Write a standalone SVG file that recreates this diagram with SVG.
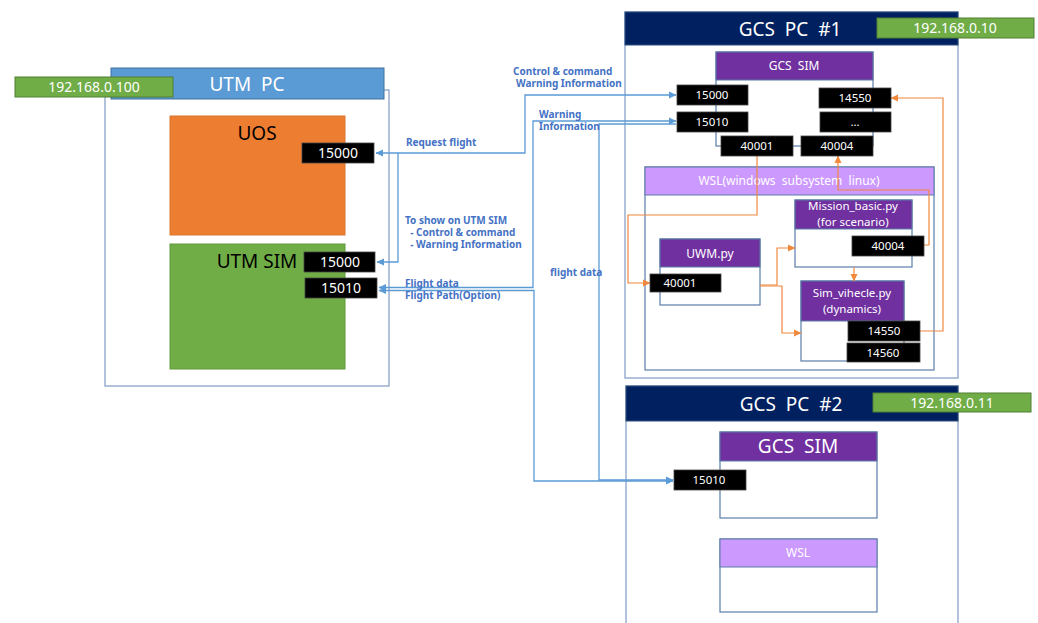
<svg xmlns="http://www.w3.org/2000/svg" width="1038" height="623" viewBox="0 0 1038 623">
<defs>
<marker id="ab" markerWidth="8" markerHeight="8" refX="7" refY="4" orient="auto-start-reverse" markerUnits="userSpaceOnUse"><path d="M0,0.5 L7.5,4 L0,7.5 z" fill="#5B9BD5"/></marker>
<marker id="ao" markerWidth="8" markerHeight="8" refX="7" refY="4" orient="auto-start-reverse" markerUnits="userSpaceOnUse"><path d="M0,0.5 L7.5,4 L0,7.5 z" fill="#F0883E"/></marker>
</defs>
<style>
text{font-family:"Noto Sans","Open Sans","Liberation Sans",sans-serif;}
.frame{fill:#fff;stroke:#7F9CC4;stroke-width:1.2;}
.box{fill:#fff;stroke:#5A7DA8;stroke-width:1.2;}
.hdrblue{fill:#5B9BD5;stroke:#41719C;stroke-width:1;}
.hdrnavy{fill:#002060;stroke:#2F4F7F;stroke-width:1;}
.hdrpur{fill:#7030A0;stroke:#5A7DA8;stroke-width:1;}
.hdrlil{fill:#CC99FF;stroke:#5A7DA8;stroke-width:1;}
.ip{fill:#70AD47;stroke:#507E32;stroke-width:1;}
.port{fill:#000;stroke:#444;stroke-width:0.8;}
.t-big{fill:#fff;font-size:19px;text-anchor:middle;}
.t-ip{fill:#fff;font-size:14px;text-anchor:middle;}
.t-p14{fill:#fff;font-size:14px;text-anchor:middle;}
.t-p11{fill:#fff;font-size:11.5px;text-anchor:middle;}
.t-mod{fill:#fff;font-size:12px;text-anchor:middle;}
.t-two{fill:#fff;font-size:11.5px;text-anchor:middle;}
.t-blk{fill:#000;font-size:19px;text-anchor:middle;}
.lbl{fill:#4472C4;font-size:10px;font-weight:bold;}
.cb{fill:none;stroke:#5B9BD5;stroke-width:1.3;}
.co{fill:none;stroke:#F0883E;stroke-width:1.2;}
</style>

<g id="utm-pc">
<rect class="frame" x="105" y="90" width="284" height="296"/>
<rect class="hdrblue" x="111" y="68" width="273" height="31"/>
<text class="t-big" x="247" y="91" xml:space="preserve">UTM  PC</text>
</g>
<g id="ip-utm">
<rect class="ip" x="15" y="77" width="158" height="20"/>
<text class="t-ip" x="94" y="92">192.168.0.100</text>
</g>
<g id="uos">
<rect x="170" y="116" width="175" height="119" fill="#ED7D31" stroke="#D6782F" stroke-width="1"/>
<text class="t-blk" x="257" y="140">UOS</text>
</g>
<g id="utm-sim">
<rect x="170" y="244" width="175" height="125" fill="#70AD47" stroke="#5E9A3A" stroke-width="1"/>
<text class="t-blk" x="257" y="268">UTM SIM</text>
</g>

<g id="gcs-pc1">
<rect class="frame" x="625" y="12" width="333" height="366"/>
<rect class="hdrnavy" x="625" y="12" width="333" height="33"/>
<text class="t-big" x="790" y="36" xml:space="preserve">GCS  PC  #1</text>
</g>
<g id="ip-gcs1">
<rect class="ip" x="877" y="18" width="157" height="20"/>
<text class="t-ip" x="955" y="33">192.168.0.10</text>
</g>
<g id="gcs-sim1">
<rect class="box" x="716" y="52" width="157" height="94"/>
<rect class="hdrpur" x="716" y="52" width="157" height="28"/>
<text class="t-mod" x="794" y="70" font-size="12.5" xml:space="preserve">GCS  SIM</text>
</g>
<g id="wsl1">
<rect class="box" x="645" y="167" width="289" height="203"/>
<rect class="hdrlil" x="645" y="167" width="289" height="28"/>
<text class="t-mod" x="789" y="185" xml:space="preserve">WSL(windows  subsystem  linux)</text>
</g>
<g id="mission">
<rect class="box" x="795" y="200" width="117" height="67"/>
<rect class="hdrpur" x="795" y="200" width="117" height="29"/>
<text class="t-two" x="853" y="210">Mission_basic.py</text>
<text class="t-two" x="853" y="226">(for scenario)</text>
</g>
<g id="uwm">
<rect class="box" x="660" y="239" width="100" height="66"/>
<rect class="hdrpur" x="660" y="239" width="100" height="28"/>
<text class="t-mod" x="710" y="258">UWM.py</text>
</g>
<g id="simveh">
<rect class="box" x="801" y="281" width="103" height="80"/>
<rect class="hdrpur" x="801" y="281" width="103" height="40"/>
<text class="t-two" x="852" y="297">Sim_vihecle.py</text>
<text class="t-two" x="852" y="313">(dynamics)</text>
</g>

<g id="gcs-pc2">
<rect class="frame" x="626" y="386" width="332" height="245"/>
<rect class="hdrnavy" x="626" y="386" width="332" height="35"/>
<text class="t-big" x="791" y="411" xml:space="preserve">GCS  PC  #2</text>
</g>
<g id="ip-gcs2">
<rect class="ip" x="873" y="393" width="158" height="19"/>
<text class="t-ip" x="952" y="408">192.168.0.11</text>
</g>
<g id="gcs-sim2">
<rect class="box" x="720" y="432" width="157" height="86"/>
<rect class="hdrpur" x="720" y="432" width="157" height="29"/>
<text class="t-big" x="798" y="453" xml:space="preserve">GCS  SIM</text>
</g>
<g id="wsl2">
<rect class="box" x="720" y="539" width="157" height="73"/>
<rect class="hdrlil" x="720" y="539" width="157" height="28"/>
<text class="t-mod" x="798" y="557" font-size="11">WSL</text>
</g>

<g id="connectors">
<path class="cb" d="M676,95 H525 V153 H376" marker-start="url(#ab)" marker-end="url(#ab)"/>
<path class="cb" d="M398,153 V262 H377" marker-end="url(#ab)"/>
<path class="cb" d="M676,121 H533 V287.5 H379" marker-start="url(#ab)" marker-end="url(#ab)"/>
<path class="cb" d="M673,481 H534 V290.5 H379" marker-start="url(#ab)" marker-end="url(#ab)"/>
<path class="cb" d="M676,124 H599 V480 H673" marker-end="url(#ab)"/>
<path class="co" d="M757,156 V215 H628 V283 H650" marker-end="url(#ao)"/>
<path class="co" d="M760,285 H777 V248 H795" marker-end="url(#ao)"/>
<path class="co" d="M760,286 H782 V333 H801" marker-end="url(#ao)"/>
<path class="co" d="M854,267 V281" marker-end="url(#ao)"/>
<path class="co" d="M924,245 H929 V190 H838 V156" marker-end="url(#ao)"/>
<path class="co" d="M920,331 H943 V98 H891" marker-end="url(#ao)"/>
</g>

<g id="labels">
<text class="lbl" x="513" y="75">Control &amp; command</text>
<text class="lbl" x="516" y="87">Warning Information</text>
<text class="lbl" x="539" y="118">Warning</text>
<text class="lbl" x="539" y="130">Information</text>
<text class="lbl" x="406" y="146">Request flight</text>
<text class="lbl" x="405" y="224">To show on UTM SIM</text>
<text class="lbl" x="405" y="236" xml:space="preserve">  - Control &amp; command</text>
<text class="lbl" x="405" y="248" xml:space="preserve">  - Warning Information</text>
<text class="lbl" x="550" y="276">flight data</text>
<text class="lbl" x="405" y="287">Flight data</text>
<text class="lbl" x="405" y="299">Flight Path(Option)</text>
</g>

<g id="port-uos-15000"><rect class="port" x="302" y="143" width="72" height="20"/><text class="t-p14" x="338" y="158">15000</text></g>
<g id="port-utm-15000"><rect class="port" x="304" y="252" width="71" height="20"/><text class="t-p14" x="340" y="267">15000</text></g>
<g id="port-utm-15010"><rect class="port" x="305" y="278" width="72" height="20"/><text class="t-p14" x="341" y="293">15010</text></g>

<g id="port-g1-15000"><rect class="port" x="677" y="85" width="71" height="20"/><text class="t-p11" x="712" y="99">15000</text></g>
<g id="port-g1-15010"><rect class="port" x="677" y="112" width="71" height="20"/><text class="t-p11" x="712" y="126">15010</text></g>
<g id="port-g1-14550"><rect class="port" x="819" y="88" width="72" height="20"/><text class="t-p11" x="855" y="102">14550</text></g>
<g id="port-g1-etc"><rect class="port" x="820" y="112" width="71" height="20"/><text class="t-p11" x="855" y="126">...</text></g>
<g id="port-g1-40001"><rect class="port" x="721" y="136" width="72" height="20"/><text class="t-p11" x="757" y="150">40001</text></g>
<g id="port-g1-40004"><rect class="port" x="801" y="136" width="72" height="20"/><text class="t-p11" x="837" y="150">40004</text></g>
<g id="port-mission-40004"><rect class="port" x="852" y="236" width="72" height="20"/><text class="t-p11" x="888" y="250">40004</text></g>
<g id="port-uwm-40001"><rect class="port" x="650" y="274" width="71" height="18"/><text class="t-p11" x="680" y="287">40001</text></g>
<g id="port-sim-14550"><rect class="port" x="848" y="321" width="72" height="20"/><text class="t-p11" x="884" y="335">14550</text></g>
<g id="port-sim-14560"><rect class="port" x="847" y="343" width="73" height="19"/><text class="t-p11" x="883" y="357">14560</text></g>
<g id="port-g2-15010"><rect class="port" x="674" y="470" width="72" height="20"/><text class="t-p11" x="709" y="484">15010</text></g>
</svg>
